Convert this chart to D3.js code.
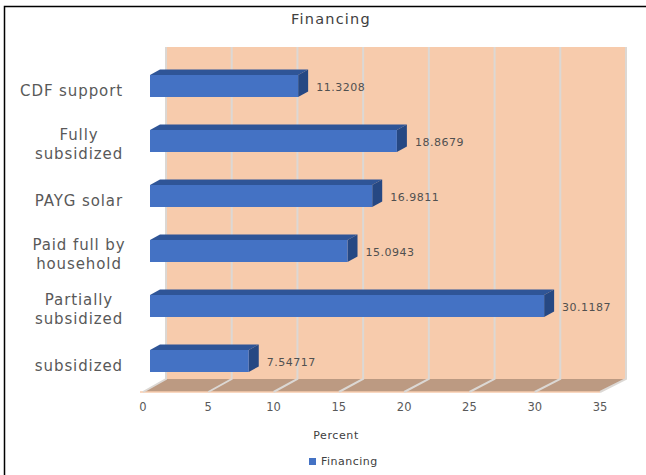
<!DOCTYPE html>
<html><head><meta charset="utf-8">
<script src="https://cdnjs.cloudflare.com/ajax/libs/d3/7.8.5/d3.min.js"></script>
<style>html,body{margin:0;padding:0;background:#fff}svg{display:block}text{font-family:"DejaVu Sans",sans-serif}</style>
</head><body><svg id="c" width="646" height="475"></svg>
<script>
const categories=["CDF support",["Fully","subsidized"],"PAYG solar",["Paid full by","household"],["Partially","subsidized"],"subsidized"];
const values=[11.3208,18.8679,16.9811,15.0943,30.1187,7.54717];
const valueLabels=["11.3208","18.8679","16.9811","15.0943","30.1187","7.54717"];
const ticks=[0,5,10,15,20,25,30,35];
const title="Financing",axisTitle="Percent",legendName="Financing";

const svg=d3.select("#c");
svg.append("path").attr("fill","none").attr("stroke","#000").attr("stroke-width",1.5).attr("d","M4.5,475V6.5H646");

const xFront=d3.scaleLinear().domain([0,35]).range([143,600]);
const xBack=d3.scaleLinear().domain([0,35]).range([166,626]);
const xBar=d3.scaleLinear().domain([0,35]).range([150,608]);
const wallTop=47,wallBot=379,floorY=392,dx=10,dy=5.5,barH=22;
const y=d3.scalePoint().domain(d3.range(categories.length)).range([75,350]);

svg.append("rect").attr("x",xBack(0)).attr("y",wallTop).attr("width",xBack(35)-xBack(0)).attr("height",wallBot-wallTop).attr("fill","#f7cbac");
svg.append("polygon").attr("fill","#bc9a82").attr("points",[[xBack(0),wallBot],[xBack(35),wallBot],[xFront(35),floorY],[xFront(0),floorY]].join(" "));
svg.append("line").attr("x1",xFront(0)-3).attr("x2",xFront(35)).attr("y1",floorY).attr("y2",floorY).attr("stroke","#f7cbac").attr("stroke-width",1.5);
ticks.forEach(t=>{
  svg.append("path").attr("fill","none").attr("stroke","#dcd8d4").attr("stroke-width",2)
    .attr("d",`M${xBack(t)},${wallTop}V${wallBot}L${xFront(t)},${floorY}`);
});
const rows=svg.selectAll("g.row").data(values).join("g").attr("class","row");
rows.append("polygon").attr("fill","#2f5597").attr("points",(d,i)=>{const t=y(i);return [[xBar(0),t],[xBar(0)+dx,t-dy],[xBar(d)+dx,t-dy],[xBar(d),t]].join(" ")});
rows.append("polygon").attr("fill","#264883").attr("points",(d,i)=>{const t=y(i);return [[xBar(d),t],[xBar(d)+dx,t-dy],[xBar(d)+dx,t+barH-dy],[xBar(d),t+barH]].join(" ")});
rows.append("rect").attr("x",xBar(0)).attr("y",(d,i)=>y(i)).attr("width",d=>xBar(d)-xBar(0)).attr("height",barH).attr("fill","#4472c4");
rows.append("text").attr("x",d=>xBar(d)+dx+8).attr("y",(d,i)=>y(i)+16).attr("font-size",11).attr("letter-spacing",0.5).attr("fill","#505050").text((d,i)=>valueLabels[i]);

svg.selectAll("text.tick").data(ticks).join("text").attr("class","tick").attr("x",d=>xFront(d)).attr("y",411).attr("text-anchor","middle").attr("font-size",11.5).attr("fill","#595959").text(d=>d);
categories.forEach((c,i)=>{
  const lines=Array.isArray(c)?c:[c];
  const cy=y(i)+16;
  lines.forEach((l,k)=>{
    svg.append("text").attr("x",lines.length>1?79:123).attr("text-anchor",lines.length>1?"middle":"end")
      .attr("y",lines.length>1?cy-6+k*19:cy+5).attr("font-size",15).attr("letter-spacing",0.9).attr("fill","#595959").text(l);
  });
});
svg.append("text").attr("x",331).attr("y",24).attr("text-anchor","middle").attr("font-size",14.5).attr("letter-spacing",1.2).attr("fill","#404040").text(title);
svg.append("text").attr("x",336).attr("y",439).attr("text-anchor","middle").attr("font-size",11).attr("letter-spacing",0.6).attr("fill","#404040").text(axisTitle);
svg.append("rect").attr("x",309).attr("y",458).attr("width",7).attr("height",7).attr("fill","#4472c4");
svg.append("text").attr("x",321).attr("y",465).attr("font-size",11).attr("letter-spacing",0.5).attr("fill","#404040").text(legendName);
</script></body></html>
